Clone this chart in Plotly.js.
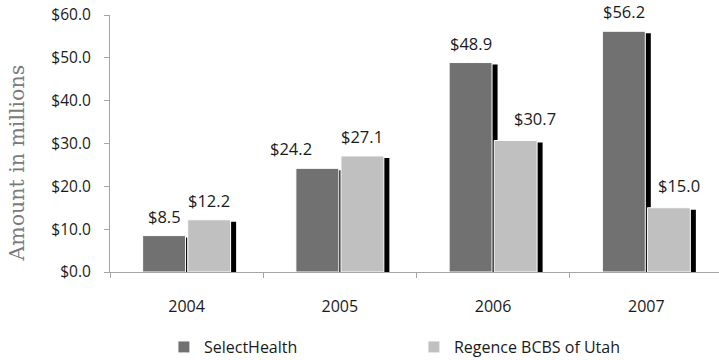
<!DOCTYPE html>
<html>
<head>
<meta charset="utf-8">
<script src="https://cdn.plot.ly/plotly-3.0.1.min.js"></script>
<style>html,body{margin:0;padding:0;background:#fff;overflow:hidden;}#chart{width:719px;height:360px;}</style>
</head>
<body>
<div id="chart"></div>
<script>
const years = ['2004', '2005', '2006', '2007'];
const selectHealth = [8.5, 24.2, 48.9, 56.2];
const regence = [12.2, 27.1, 30.7, 15.0];
const seriesNames = ['SelectHealth', 'Regence BCBS of Utah'];
const seriesColors = ['#717171', '#c0c0c0'];
const yTicks = [0, 10, 20, 30, 40, 50, 60];
const yTitle = 'Amount in millions';

// label nudges in pixels (layout only), per series, per year
const labelDx = [[0, -26, 0, 0], [0, 0, 19, 10]];
const labelDy = [[0, 0, 0, 0], [0, 0, 3, 3]];

const xIdx = years.map((_, i) => i);
const barW = 0.28;
const offs = [-0.287, 0.007];
const shadowShift = 0.036;
const shadowDrop = 0.47;
const fmt = v => '$' + v.toFixed(1);

const series = [selectHealth, regence];
const traces = [];
series.forEach((vals, i) => {
  traces.push({
    type: 'bar', x: xIdx, y: vals.map(v => v - shadowDrop),
    offset: offs[i] + shadowShift, width: barW,
    marker: {color: '#000000', line: {width: 0}},
    showlegend: false, hoverinfo: 'skip'
  });
});
series.forEach((vals, i) => {
  traces.push({
    type: 'bar', x: xIdx, y: vals, name: seriesNames[i],
    offset: offs[i], width: barW,
    marker: {color: seriesColors[i], line: {color: '#ffffff', width: 1}}
  });
});

const annotations = [];
series.forEach((vals, i) => {
  vals.forEach((v, j) => {
    annotations.push({
      x: xIdx[j] + offs[i] + barW / 2, y: v, xref: 'x', yref: 'y',
      xshift: labelDx[i][j], yshift: 6 + labelDy[i][j],
      yanchor: 'bottom', xanchor: 'center', showarrow: false,
      text: fmt(v),
      font: {family: 'Open Sans', size: 16.5, color: '#1a1a1a'}
    });
  });
});
annotations.push({
  text: yTitle, textangle: -90, showarrow: false,
  xref: 'paper', yref: 'paper', x: -0.153, y: 0.425,
  xanchor: 'center', yanchor: 'middle',
  font: {family: 'DejaVu Serif', size: 20.5, color: '#7a7a7a'}
});

const layout = {
  width: 719, height: 360,
  margin: {l: 110, r: 0, t: 15, b: 88, autoexpand: false},
  paper_bgcolor: '#ffffff', plot_bgcolor: '#ffffff',
  barmode: 'overlay',
  showlegend: true,
  legend: {
    orientation: 'h', xref: 'container', yref: 'container',
    x: 0.228, xanchor: 'left', y: 0.036, yanchor: 'middle',
    entrywidth: 205, entrywidthmode: 'pixels',
    font: {family: 'Open Sans', size: 16, color: '#1a1a1a'},
    traceorder: 'normal'
  },
  xaxis: {
    range: [-0.5, 3.474], automargin: false,
    tickvals: xIdx, ticktext: years, ticks: '', ticklabelstandoff: 20,
    minor: {tickvals: [-0.5, 0.5, 1.5, 2.5, 3.5], ticks: 'outside', ticklen: 5, tickcolor: '#a6a6a6', showgrid: false},
    showline: true, linecolor: '#a6a6a6', linewidth: 1,
    showgrid: false, zeroline: false,
    tickfont: {family: 'Open Sans', size: 16, color: '#1a1a1a'}
  },
  yaxis: {
    range: [0, 60], tickvals: yTicks, ticktext: yTicks.map(fmt), automargin: false,
    showline: true, linecolor: '#a6a6a6', linewidth: 1,
    ticks: 'outside', ticklen: 5, tickcolor: '#a6a6a6', ticklabelstandoff: 10,
    showgrid: false, zeroline: false,
    tickfont: {family: 'Open Sans', size: 15.5, color: '#1a1a1a'}
  },
  annotations: annotations
};

Plotly.newPlot('chart', traces, layout, {displayModeBar: false, staticPlot: true});
</script>
</body>
</html>
